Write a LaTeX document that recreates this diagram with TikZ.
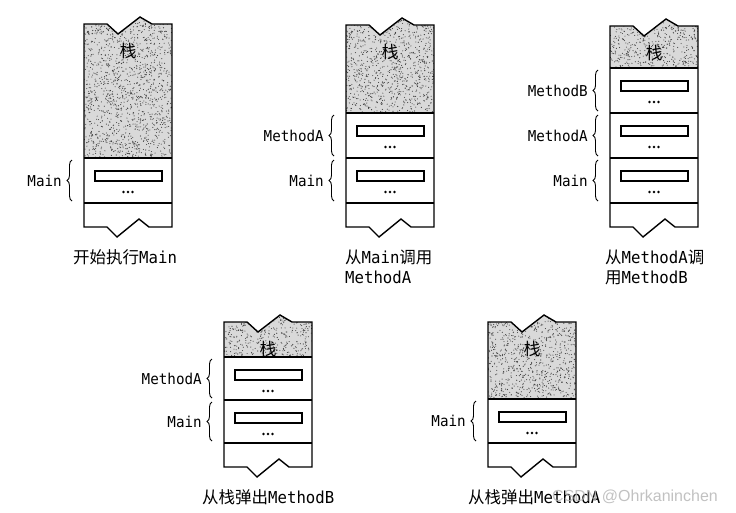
\documentclass[tikz,border=0pt]{standalone}
\usepackage{fontspec}
\usetikzlibrary{decorations.pathreplacing}
\newfontfamily\cjkf{Noto Sans CJK SC}
\newfontfamily\monof[FakeStretch=0.95]{DejaVu Sans Mono}
\newfontfamily\wmf{Liberation Sans}
\tikzset{
  outline/.style={draw=black,line width=1.4pt,line join=miter},
  divider/.style={draw=black,line width=1.2pt},
  innerbox/.style={draw=black,line width=1.2pt},
  bracestyle/.style={draw=black,line width=0.9pt,decorate,decoration={brace,amplitude=5pt}},
  lbl/.style={font=\monof\fontsize{15}{18}\selectfont,inner sep=0pt,anchor=east},
  captxt/.style={font=\fontsize{16.5}{20}\selectfont,inner sep=0pt,anchor=west,align=left},
  stacktxt/.style={font=\cjkf\fontsize{17}{19}\selectfont,inner sep=0pt},
}
% #1 x0, #2 top, #3 gray bottom, #4 bottom, #5 name of stack label
\newcommand\mkcol[5]{%
  \begin{scope}
    \clip (#1,#3) -- (#1,#2) -- ({#1+23},#2) -- ({#1+34},{#2+10}) -- ({#1+56},{#2-7}) -- ({#1+68},#2) -- ({#1+88},#2) -- ({#1+88},#3) -- cycle;
    \fill[gray!30] ({#1-1},{#2-9}) rectangle ({#1+89},{#3+1});
    \pgfmathtruncatemacro\ndots{88*(#3-#2+8)/9}
    \foreach \k in {1,...,\ndots} {\fill[black!75] ({#1+88*rnd},{#2-8+(#3-#2+8)*rnd}) circle (0.55pt);}
  \end{scope}
  \draw[outline] (#1,#4) -- (#1,#2) -- ({#1+23},#2) -- ({#1+34},{#2+10}) -- ({#1+56},{#2-7}) -- ({#1+68},#2) -- ({#1+88},#2) -- ({#1+88},#4) -- ({#1+65},#4) -- ({#1+55},{#4-8}) -- ({#1+33},{#4+10}) -- ({#1+23},#4) -- cycle;
  \draw[divider] (#1,#3) -- ({#1+88},#3);
  \node[stacktxt] (#5) at ({#1+44},{#2+27}) {栈};
}
% #1 x0, #2 frame top, #3 frame bottom, #4 label, #5 name
\newcommand\mkframe[5]{%
  \draw[divider] (#1,#3) -- ({#1+88},#3);
  \draw[innerbox] ({#1+11},{#2+13}) rectangle ({#1+78},{#2+23});
  \foreach \dx in {39.5,44,48.5} {\fill[black] ({#1+\dx},{#2+34}) circle (1.3pt);}
  \draw[bracestyle] ({#1-12},{#3-2}) -- ({#1-12},{#2+2});
  \node[lbl] (#5) at ({#1-22},{(#2+#3)/2}) {#4};
}
\begin{document}
\begin{tikzpicture}[x=1pt,y=-1pt]
\pgfmathsetseed{12345}
\useasboundingbox (0,0) rectangle (736,512);
% column 1
\mkcol{84}{24}{158}{227}{s1}
\mkframe{84}{158}{203}{Main}{m1}
\node[captxt] (c1) at (73,257) {{\cjkf 开始执行}{\monof Main}};
% column 2
\mkcol{346}{25}{113}{227}{s2}
\mkframe{346}{113}{158}{MethodA}{a2}
\mkframe{346}{158}{203}{Main}{m2}
\node[captxt] (c2) at (345,267) {{\cjkf 从}{\monof Main}{\cjkf 调用}\\{\monof MethodA}};
% column 3
\mkcol{610}{26}{68}{227}{s3}
\mkframe{610}{68}{113}{MethodB}{b3}
\mkframe{610}{113}{158}{MethodA}{a3}
\mkframe{610}{158}{203}{Main}{m3}
\node[captxt] (c3) at (605,267) {{\cjkf 从}{\monof MethodA}{\cjkf 调}\\{\cjkf 用}{\monof MethodB}};
% column 4
\mkcol{224}{322}{357}{467}{s4}
\mkframe{224}{357}{400}{MethodA}{a4}
\mkframe{224}{400}{443}{Main}{m4}
\node[captxt] (c4) at (202,497) {{\cjkf 从栈弹出}{\monof MethodB}};
% column 5
\mkcol{488}{322}{399}{467}{s5}
\mkframe{488}{399}{443}{Main}{m5}
\node[captxt] (c5) at (468,497) {{\cjkf 从栈弹出}{\monof MethodA}};
\node[font=\wmf\fontsize{16}{18}\selectfont,text=gray!60,opacity=0.8,inner sep=0pt,anchor=west] (wm) at (552,497) {CSDN @Ohrkaninchen};
\end{tikzpicture}
\end{document}
